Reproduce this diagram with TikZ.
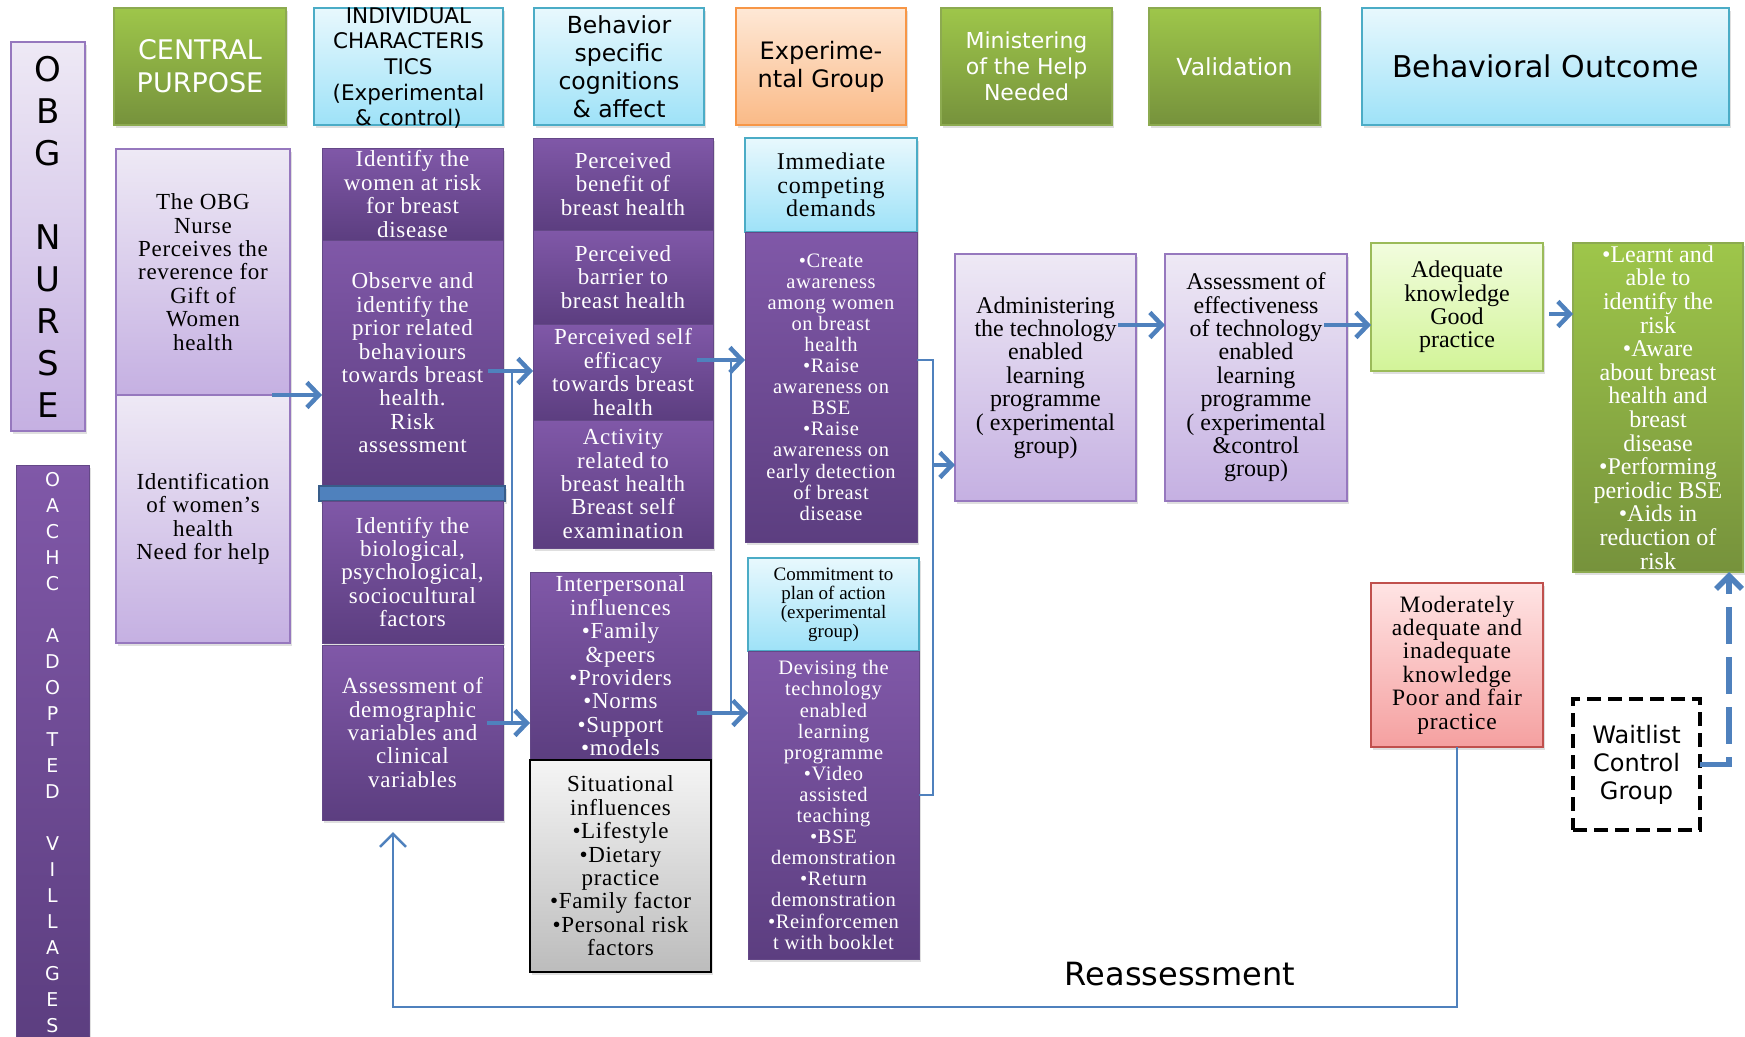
\documentclass[tikz,border=0pt]{standalone}
\usepackage{fontspec}
\setmainfont{Liberation Serif}
\newfontfamily\headfont{DejaVu Sans}
\newfontfamily\spacedserif[LetterSpace=3]{Liberation Serif}
\usepackage{xcolor}
\definecolor{greenT}{RGB}{158,198,74}
\definecolor{greenB}{RGB}{118,146,60}
\definecolor{greenE}{RGB}{140,170,80}
\definecolor{cyanT}{RGB}{232,248,253}
\definecolor{cyanB}{RGB}{158,226,248}
\definecolor{cyanE}{RGB}{75,172,198}
\definecolor{orangeT}{RGB}{254,232,214}
\definecolor{orangeB}{RGB}{250,186,135}
\definecolor{orangeE}{RGB}{247,150,70}
\definecolor{lpurpleT}{RGB}{238,233,245}
\definecolor{lpurpleB}{RGB}{197,176,226}
\definecolor{lpurpleE}{RGB}{150,120,190}
\definecolor{dpurpleT}{RGB}{128,88,168}
\definecolor{dpurpleB}{RGB}{92,62,128}
\definecolor{dpurpleE}{RGB}{100,72,135}
\definecolor{grayT}{RGB}{245,245,245}
\definecolor{grayB}{RGB}{188,188,188}
\definecolor{lgreenT}{RGB}{242,253,222}
\definecolor{lgreenB}{RGB}{210,244,152}
\definecolor{lgreenE}{RGB}{155,187,89}
\definecolor{redT}{RGB}{255,228,228}
\definecolor{redB}{RGB}{245,160,160}
\definecolor{redE}{RGB}{192,80,77}
\definecolor{linkblue}{RGB}{79,129,189}
\definecolor{barE}{RGB}{56,93,138}
\usepackage{tikz}
\usetikzlibrary{positioning,arrows.meta,shadows,calc}
% box from its corners: name, style, x1, y1, x2, y2, text
\newcommand{\cornerbox}[7]{%
  \node[#2,minimum width={#5-#3},minimum height={#6-#4}]
    (#1) at ({(#3+#5)/2},{(#4+#6)/2}) {#7};}

\begin{document}
\begin{tikzpicture}[x=1pt,y=-1pt,
  panel/.style={rectangle,inner sep=2pt,outer sep=0pt,align=center,line width=1.2pt,
    drop shadow={shadow xshift=2pt,shadow yshift=-2.5pt,opacity=0.25}},
  hgreen/.style={panel,top color=greenT,bottom color=greenB,draw=greenE,text=white},
  hcyan/.style={panel,top color=cyanT,bottom color=cyanB,draw=cyanE},
  horange/.style={panel,top color=orangeT,bottom color=orangeB,draw=orangeE},
  lpbox/.style={panel,top color=lpurpleT,bottom color=lpurpleB,draw=lpurpleE},
  dpbox/.style={panel,top color=dpurpleT,bottom color=dpurpleB,draw=dpurpleE,line width=0.8pt,text=white},
  graybox/.style={panel,top color=grayT,bottom color=grayB,draw=black,line width=2pt},
  lgbox/.style={panel,top color=lgreenT,bottom color=lgreenB,draw=lgreenE},
  rdbox/.style={panel,top color=redT,bottom color=redB,draw=redE},
  waitbox/.style={rectangle,draw=black,line width=4pt,dash pattern=on 14pt off 7pt,
    align=center,inner sep=2pt,outer sep=0pt},
  bodyfont/.style={font=\spacedserif\fontsize{23}{23.4}\selectfont},
  listfont/.style={font=\spacedserif\fontsize{20.5}{21.1}\selectfont},
  tnrfont/.style={font=\fontsize{24}{23.4}\selectfont},
  arr/.style={draw=linkblue,line width=4.5pt,-{Straight Barb[length=12pt,width=25pt]}},
  thinlink/.style={draw=linkblue,line width=1.8pt},
  dasharr/.style={draw=linkblue,line width=5.5pt,dash pattern=on 37pt off 13pt,
    -{Straight Barb[length=13pt,width=26pt]}},
  looparr/.style={draw=linkblue,line width=2.5pt,-{Straight Barb[length=13pt,width=26pt]}}]
  \useasboundingbox (0,0) rectangle (1745,1036);

  % header row
  \cornerbox{hcentral}{hgreen,font=\headfont\fontsize{27}{33}\selectfont}{114}{8}{286}{125}{CENTRAL\\PURPOSE}
  \cornerbox{hindiv}{hcyan,font=\headfont\fontsize{21.5}{25.6}\selectfont}{314}{8}{503}{125}%
    {\smash{\raisebox{-8pt}{\begin{tabular}{@{}c@{}}INDIVIDUAL\\CHARACTERIS\\TICS\\(Experimental\\\& control)\end{tabular}}}}
  \cornerbox{hbehav}{hcyan,font=\headfont\fontsize{23.5}{28}\selectfont}{534}{8}{704}{125}{Behavior\\specific\\cognitions\\\& affect}
  \cornerbox{hexper}{horange,font=\headfont\fontsize{24}{28}\selectfont}{736}{8}{906}{125}{Experime-\\ntal Group}
  \cornerbox{hminist}{hgreen,font=\headfont\fontsize{22}{26}\selectfont}{941}{8}{1112}{125}{Ministering\\of the Help\\Needed}
  \cornerbox{hvalid}{hgreen,font=\headfont\fontsize{23.5}{28}\selectfont}{1149}{8}{1320}{125}{Validation}
  \cornerbox{houtcome}{hcyan,font=\headfont\fontsize{30}{34}\selectfont}{1362}{8}{1729}{125}{Behavioral Outcome}

  % side bars
  \cornerbox{nurse}{lpbox,font=\headfont\fontsize{34}{42}\selectfont}{11}{42}{85}{431}{O\\B\\G\\[42pt]N\\U\\R\\S\\E}
  \cornerbox{oachc}{dpbox,font=\headfont\fontsize{19}{26}\selectfont}{16}{465}{89}{1040}%
    {O\\A\\C\\H\\C\\[26pt]A\\D\\O\\P\\T\\E\\D\\[26pt]V\\I\\L\\L\\A\\G\\E\\S}

  % central purpose
  \cornerbox{purpose}{lpbox,bodyfont}{116}{149}{290}{395}{The OBG\\Nurse\\Perceives the\\reverence for\\Gift of\\Women\\health}
  \cornerbox{needhelp}{lpbox,bodyfont}{116}{395}{290}{643}{Identification\\of women’s\\health\\Need for help}

  % individual characteristics
  \cornerbox{atrisk}{dpbox,bodyfont,inner ysep=0pt}{322}{148}{503}{240}{Identify the\\women at risk\\for breast\\disease}
  \cornerbox{observe}{dpbox,bodyfont}{322}{240}{503}{486}{Observe and\\identify the\\prior related\\behaviours\\towards breast\\health.\\Risk\\assessment}
  \cornerbox{bluebar}{panel,fill=linkblue,draw=barE,line width=2pt}{319}{486}{505}{501}{}
  \cornerbox{biofact}{dpbox,bodyfont}{322}{501}{503}{643}{Identify the\\biological,\\psychological,\\sociocultural\\factors}
  \cornerbox{demog}{dpbox,bodyfont}{322}{645}{503}{820}{Assessment of\\demographic\\variables and\\clinical\\variables}

  % behaviour specific cognitions
  \cornerbox{benefit}{dpbox,bodyfont}{533}{138}{713}{230}{Perceived\\benefit of\\breast health}
  \cornerbox{barrier}{dpbox,bodyfont}{533}{230}{713}{324}{Perceived\\barrier to\\breast health}
  \cornerbox{efficacy}{dpbox,bodyfont,inner ysep=0pt}{533}{324}{713}{420}{Perceived self\\efficacy\\towards breast\\health}
  \cornerbox{activity}{dpbox,bodyfont}{533}{420}{713}{548}{Activity\\related to\\breast health\\Breast self\\examination}
  \cornerbox{interp}{dpbox,bodyfont,inner ysep=0pt}{530}{572}{711}{760}{Interpersonal\\influences\\•Family\\\&peers\\•Providers\\•Norms\\•Support\\•models}
  \cornerbox{situat}{graybox,bodyfont}{530}{760}{711}{972}{Situational\\influences\\•Lifestyle\\•Dietary\\practice\\•Family factor\\•Personal risk\\factors}

  % experimental group
  \cornerbox{demands}{hcyan,font=\spacedserif\fontsize{24}{23.4}\selectfont}{745}{138}{917}{232}{Immediate\\competing\\demands}
  \cornerbox{aware}{dpbox,listfont}{745}{232}{917}{542}{•Create\\awareness\\among women\\on breast\\health\\•Raise\\awareness on\\BSE\\•Raise\\awareness on\\early detection\\of breast\\disease}
  \cornerbox{commit}{hcyan,font=\fontsize{19}{19}\selectfont}{748}{558}{919}{651}{Commitment to\\plan of action\\(experimental\\group)}
  \cornerbox{devise}{dpbox,listfont}{748}{651}{919}{959}{Devising the\\technology\\enabled\\learning\\programme\\•Video\\assisted\\teaching\\•BSE\\demonstration\\•Return\\demonstration\\•Reinforcemen\\t with booklet}

  % ministering and validation
  \cornerbox{admin}{lpbox,tnrfont}{955}{254}{1136}{501}{Administering\\the technology\\enabled\\learning\\programme\\( experimental\\group)}
  \cornerbox{assess}{lpbox,tnrfont}{1165}{254}{1347}{501}{Assessment of\\effectiveness\\of technology\\enabled\\learning\\programme\\( experimental\\\&control\\group)}

  % outcomes
  \cornerbox{adequate}{lgbox,tnrfont}{1371}{243}{1543}{371}{Adequate\\knowledge\\Good\\practice}
  \cornerbox{learnt}{hgreen,font=\fontsize{24}{23.6}\selectfont,inner ysep=0pt}{1573}{243}{1743}{572}{•Learnt and\\able to\\identify the\\risk\\•Aware\\about breast\\health and\\breast\\disease\\•Performing\\periodic BSE\\•Aids in\\reduction of\\risk}
  \cornerbox{moderate}{rdbox,font=\spacedserif\fontsize{23.5}{23.4}\selectfont}{1371}{583}{1543}{747}{Moderately\\adequate and\\inadequate\\knowledge\\Poor and fair\\practice}
  \cornerbox{waitlist}{waitbox,font=\headfont\fontsize{24}{28}\selectfont}{1573}{699}{1700}{830}{Waitlist\\Control\\Group}
  \node[font=\headfont\fontsize{32}{36}\selectfont] (reass) at (1180,974) {Reassessment};

  % connectors
  \draw[arr] ([xshift=-18pt]purpose.south east) -- (purpose.south east -| observe.west);
  \coordinate (br2t) at (512,371);
  \coordinate (br2b) at (512,723);
  \draw[thinlink] (br2t) -- (br2b);
  \draw[arr,shorten <=-15pt] (observe.east |- br2t) -- (efficacy.west |- br2t);
  \draw[arr,shorten <=-16pt] (demog.east |- br2b) -- (interp.west |- br2b);
  \coordinate (br3t) at (731,360);
  \coordinate (br3b) at (731,713);
  \draw[thinlink] (br3t) -- (br3b);
  \draw[arr,shorten <=-16pt] (efficacy.east |- br3t) -- (aware.west |- br3t);
  \draw[arr,shorten <=-14pt] (interp.east |- br3b) -- (devise.west |- br3b);
  \coordinate (br4t) at (933,360);
  \coordinate (br4b) at (933,795);
  \coordinate (br4m) at (933,465);
  \draw[thinlink] (aware.east |- br4t) -- (br4t) -- (br4b) -- (devise.east |- br4b);
  \draw[arr] (br4m) -- (admin.west |- br4m);
  \draw[arr,shorten <=-18pt] ([yshift=52.5pt]admin.east) -- ([yshift=52.5pt]assess.west);
  \draw[arr,shorten <=-23pt] ([yshift=52.5pt]assess.east) -- ([yshift=52.5pt]assess.east -| adequate.west);
  \draw[arr,shorten <=6pt] ([yshift=-7pt]adequate.east) -- ([yshift=-7pt]adequate.east -| learnt.west);
  \draw[dasharr] (waitlist.east) -| ([xshift=-14pt]learnt.south east);
  % reassessment loop
  \coordinate (loopb) at (393,1007);
  \coordinate (looptip) at (393,832);
  \draw[looparr] (moderate.south) -- (moderate.south |- loopb) -- (loopb) -- (looptip);
\end{tikzpicture}
\end{document}
